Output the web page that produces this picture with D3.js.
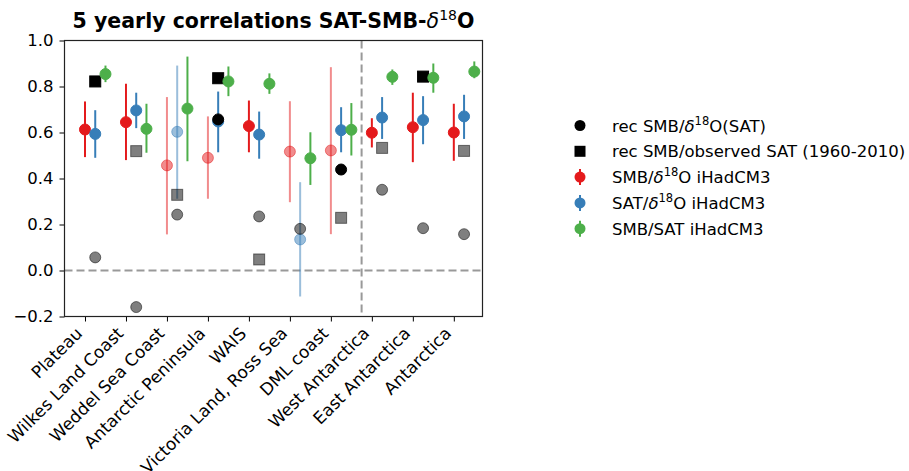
<!DOCTYPE html>
<html><head><meta charset="utf-8">
<script src="https://cdn.jsdelivr.net/npm/d3@7"></script>
<style>body{margin:0;background:#fff;} text{font-family:"DejaVu Sans",sans-serif;}</style>
</head><body>
<svg id="chart" width="909" height="471"></svg>
<script>
const categories = ["Plateau","Wilkes Land Coast","Weddel Sea Coast","Antarctic Peninsula","WAIS","Victoria Land, Ross Sea","DML coast","West Antarctica","East Antarctica","Antarctica"];
const yTicks = [-0.2,0.0,0.2,0.4,0.6,0.8,1.0];

// SMB/d18O iHadCM3 (red)
const smbD18O     = [0.613,0.645,0.457,0.490,0.628,0.517,0.522,0.599,0.623,0.600];
const smbD18OLow  = [0.493,0.480,0.157,0.312,0.514,0.297,0.158,0.535,0.471,0.477];
const smbD18OHigh = [0.735,0.812,0.754,0.670,0.739,0.736,0.884,0.662,0.773,0.725];
const smbD18OSig  = [1,1,0,0,1,0,0,1,1,1];
// SAT/d18O iHadCM3 (blue)
const satD18O     = [0.594,0.696,0.603,0.648,0.591,0.135,0.610,0.665,0.654,0.670];
const satD18OLow  = [0.490,0.619,0.312,0.514,0.486,-0.113,0.514,0.572,0.549,0.572];
const satD18OHigh = [0.697,0.773,0.891,0.778,0.691,0.384,0.710,0.754,0.758,0.764];
const satD18OSig  = [1,1,0,1,1,0,1,1,1,1];
// SMB/SAT iHadCM3 (green)
const smbSat      = [0.854,0.616,0.704,0.822,0.812,0.488,0.612,0.842,0.838,0.865];
const smbSatLow   = [0.819,0.512,0.475,0.758,0.768,0.372,0.500,0.807,0.773,0.836];
const smbSatHigh  = [0.891,0.725,0.930,0.887,0.857,0.601,0.728,0.874,0.900,0.909];
const smbSatSig   = [1,1,1,1,1,1,1,1,1,1];
// rec SMB/d18O(SAT) (circles)
const recD18O     = [0.057,-0.159,0.243,0.657,0.235,0.181,0.439,0.351,0.184,0.158];
const recD18OSig  = [0,0,0,1,0,0,1,0,0,0];
// rec SMB/observed SAT (squares)
const recObs      = [0.822,0.519,0.329,0.836,0.048,null,0.229,0.533,0.843,0.520];
const recObsSig   = [1,0,0,1,0,0,0,0,1,0];

const colors = {red:"#e41a1c", blue:"#377eb8", green:"#4daf4a"};
const FS = 16.5;

const svg = d3.select("#chart");
const x = d3.scaleLinear().domain([-0.5, 9.7]).range([64.5, 482.5]);
const y = d3.scaleLinear().domain([-0.2, 1.0]).range([316.5, 40.5]);

// reference lines
svg.append("line").attr("x1", x(-0.5)).attr("x2", x(9.7)).attr("y1", y(0)).attr("y2", y(0))
  .attr("stroke","#999").attr("stroke-width",2).attr("stroke-dasharray","8,4");
svg.append("line").attr("x1", x(6.75)).attr("x2", x(6.75)).attr("y1", y(1.0)).attr("y2", y(-0.2))
  .attr("stroke","#999").attr("stroke-width",2).attr("stroke-dasharray","8,4");

function errSeries(vals, lo, hi, sig, color, off) {
  const g = svg.append("g");
  vals.forEach((v,i)=>{
    const op = sig[i] ? 1 : 0.5;
    g.append("line").attr("x1", x(i+off)).attr("x2", x(i+off)).attr("y1", y(lo[i])).attr("y2", y(hi[i]))
      .attr("stroke", color).attr("stroke-width", 2).attr("stroke-opacity", op);
    g.append("circle").attr("cx", x(i+off)).attr("cy", y(v)).attr("r", 5.5)
      .attr("fill", color).attr("fill-opacity", op).attr("stroke", color).attr("stroke-opacity", op).attr("stroke-width",1);
  });
}
errSeries(smbD18O, smbD18OLow, smbD18OHigh, smbD18OSig, colors.red, 0);
errSeries(satD18O, satD18OLow, satD18OHigh, satD18OSig, colors.blue, 0.25);

// rec circles
recD18O.forEach((v,i)=>{
  const op = recD18OSig[i] ? 1 : 0.5;
  svg.append("circle").attr("cx", x(i+0.25)).attr("cy", y(v)).attr("r", 5.5)
    .attr("fill","#000").attr("fill-opacity",op).attr("stroke","#000").attr("stroke-opacity",op).attr("stroke-width",1);
});
// rec squares
recObs.forEach((v,i)=>{
  if (v===null) return;
  const op = recObsSig[i] ? 1 : 0.5;
  svg.append("rect").attr("x", x(i+0.25)-5.5).attr("y", y(v)-5.5).attr("width",11).attr("height",11)
    .attr("fill","#000").attr("fill-opacity",op).attr("stroke","#000").attr("stroke-opacity",op).attr("stroke-width",1);
});
errSeries(smbSat, smbSatLow, smbSatHigh, smbSatSig, colors.green, 0.5);

// axes
const yAxis = d3.axisLeft(y).tickValues(yTicks).tickSize(5).tickPadding(6)
  .tickFormat(d=> d3.format(".1f")(d).replace("-","\u2212"));
const gy = svg.append("g").attr("transform",`translate(${x(-0.5)},0)`).call(yAxis);
gy.select(".domain").remove();
gy.selectAll("text").attr("font-size",FS).attr("fill","#000").style("font-family","DejaVu Sans");
gy.selectAll("line").attr("stroke","#000");

const xAxis = d3.axisBottom(x).tickValues(d3.range(categories.length)).tickSize(5).tickFormat(i=>categories[i]);
const gx = svg.append("g").attr("transform",`translate(0,${y(-0.2)})`).call(xAxis);
gx.select(".domain").remove();
gx.selectAll("line").attr("stroke","#000");
gx.selectAll("text").attr("font-size",17).attr("fill","#000").style("font-family","DejaVu Sans")
  .attr("text-anchor","end").attr("dy",null).attr("y",null)
  .attr("transform","translate(-2,18) rotate(-45)");

// frame
svg.append("rect").attr("x", x(-0.5)).attr("y", y(1.0)).attr("width", x(9.7)-x(-0.5)).attr("height", y(-0.2)-y(1.0))
  .attr("fill","none").attr("stroke","#222").attr("stroke-width",1.2);

// title
const title = svg.append("text").attr("x", (x(-0.5)+x(9.7))/2).attr("y", 28).attr("text-anchor","middle")
  .attr("font-size",20.5).attr("font-weight","bold");
title.append("tspan").text("5 yearly correlations SAT-SMB-");
title.append("tspan").attr("font-style","italic").attr("font-weight","normal").text("δ");
title.append("tspan").attr("font-size",14).attr("dy",-8).attr("font-weight","normal").text("18");
title.append("tspan").attr("dy",8).text("O");

// legend
const legendItems = [
  {type:"circle", color:"#000", parts:[["rec SMB/"],["δ","i"],["18","s"],["O(SAT)"]]},
  {type:"square", color:"#000", parts:[["rec SMB/observed SAT (1960-2010)"]]},
  {type:"err", color:colors.red, parts:[["SMB/"],["δ","i"],["18","s"],["O iHadCM3"]]},
  {type:"err", color:colors.blue, parts:[["SAT/"],["δ","i"],["18","s"],["O iHadCM3"]]},
  {type:"err", color:colors.green, parts:[["SMB/SAT iHadCM3"]]}
];
const lg = svg.append("g");
legendItems.forEach((it,i)=>{
  const cy = 125.5 + i*25.8;
  const cx = 580;
  if (it.type==="square") {
    lg.append("rect").attr("x",cx-5.5).attr("y",cy-5.5).attr("width",11).attr("height",11).attr("fill",it.color);
  } else {
    if (it.type==="err") lg.append("line").attr("x1",cx).attr("x2",cx).attr("y1",cy-8).attr("y2",cy+8).attr("stroke",it.color).attr("stroke-width",2);
    lg.append("circle").attr("cx",cx).attr("cy",cy).attr("r",5.5).attr("fill",it.color);
  }
  const t = lg.append("text").attr("x",612).attr("y",cy+6).attr("font-size",FS).attr("fill","#000");
  let sup = false;
  it.parts.forEach(p=>{
    const s = t.append("tspan").text(p[0]);
    if (p[1]==="i") s.attr("font-style","italic");
    if (p[1]==="s") { s.attr("font-size",11.5).attr("dy",-7); sup = true; }
    else if (sup) { s.attr("dy",7); sup = false; }
  });
});
</script>
</body></html>
